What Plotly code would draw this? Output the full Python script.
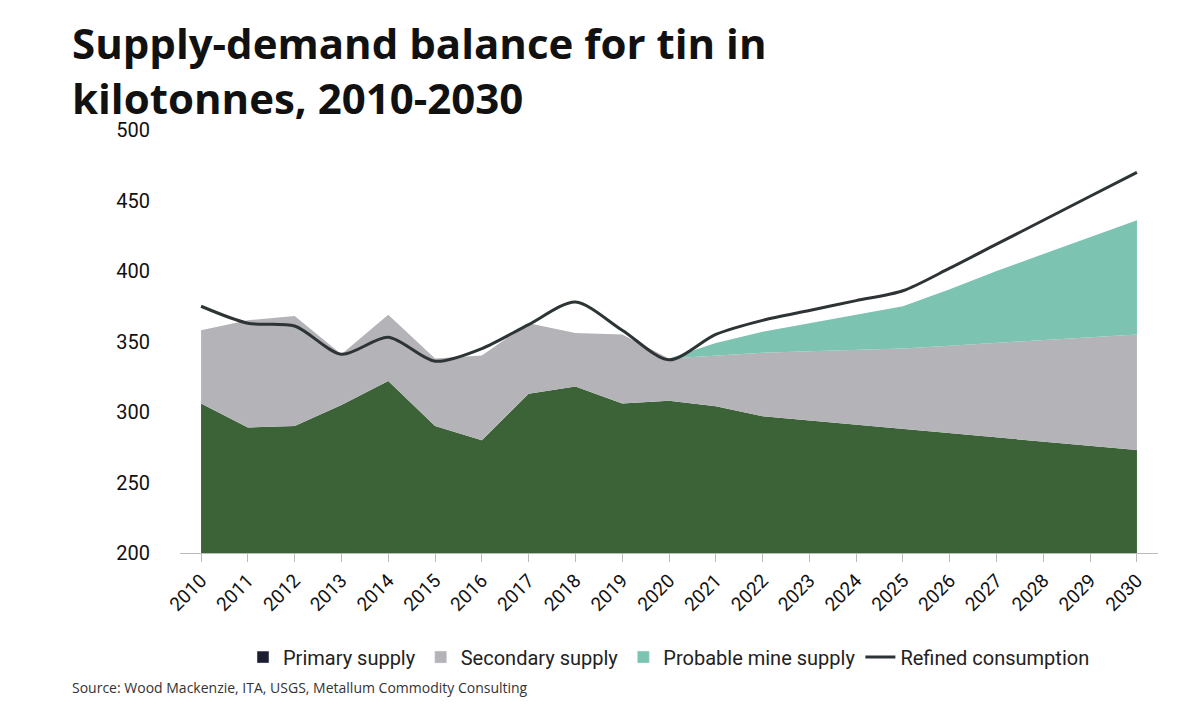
import plotly.graph_objects as go

years = list(range(2010, 2031))
primary = [306, 289, 290, 305, 322, 290, 280, 313, 318, 306, 308, 304, 297, 294, 291, 288, 285, 282, 279, 276, 273]
supply_total = [358, 365, 368, 341, 369, 338, 340, 363, 356, 355, 338, 340, 342, 343, 344, 345, 347, 349, 351, 353, 355]
probable_total = [358, 365, 368, 341, 369, 338, 340, 363, 356, 355, 338, 349, 357, 363, 369, 375, 387, 400, 412, 424, 436]
consumption = [375, 363, 361, 341, 353, 336, 345, 362, 378, 358, 337, 355, 365, 372, 379, 386, 402, 419, 436, 453, 470]

secondary = [t - p for t, p in zip(supply_total, primary)]
probable = [q - t for q, t in zip(probable_total, supply_total)]

fig = go.Figure()
common = dict(mode="lines", line=dict(width=0), stackgroup="s", showlegend=False, hoverinfo="skip")
fig.add_trace(go.Scatter(x=years, y=primary, fillcolor="#3b6337", **common))
fig.add_trace(go.Scatter(x=years, y=secondary, fillcolor="#b4b3b7", **common))
fig.add_trace(go.Scatter(x=years, y=probable, fillcolor="#7cc3b2", **common))
fig.add_trace(go.Scatter(x=years, y=consumption, mode="lines", line=dict(color="#2d3436", width=3, shape="spline", smoothing=0.8), showlegend=False))

for name, col in [("Primary supply", "#1c1d33"), ("Secondary supply", "#b4b3b7"), ("Probable mine supply", "#7cc3b2")]:
    fig.add_trace(go.Bar(x=[None], y=[None], marker=dict(color=col), name=name))
fig.add_trace(go.Scatter(x=[None], y=[None], mode="lines", line=dict(color="#2d3436", width=3), name="Refined consumption"))

fig.update_layout(
    width=1200, height=707, paper_bgcolor="white", plot_bgcolor="white",
    margin=dict(l=172, r=50, t=122, b=162),
    font=dict(family="Roboto", color="#222", size=19),
    xaxis=dict(range=[2009.55, 2030.45], tickvals=years, ticktext=[str(y) for y in years], tickangle=-45,
               showline=True, linecolor="#bbb", ticks="outside", tickcolor="#bbb", ticklen=8, showgrid=False, zeroline=False,
               tickfont=dict(size=19, color="#111")),
    yaxis=dict(range=[200, 500], tickvals=[200, 250, 300, 350, 400, 450, 500], showgrid=False, zeroline=False,
               ticklen=25, ticks="outside", tickcolor="white", tickfont=dict(size=20, color="#111")),
    legend=dict(orientation="h", x=0.5, xanchor="center", y=-0.2, yanchor="top", font=dict(size=20), traceorder="normal"),
    annotations=[
        dict(text="<b>Supply-demand balance for tin in<br>kilotonnes, 2010-2030</b>", xref="paper", yref="paper",
             x=-0.112, y=1.28, xanchor="left", yanchor="top", align="left", showarrow=False,
             font=dict(family="Open Sans", size=42, color="#111")),
        dict(text="Source: Wood Mackenzie, ITA, USGS, Metallum Commodity Consulting", xref="paper", yref="paper",
             x=-0.112, y=-0.29, xanchor="left", yanchor="top", showarrow=False,
             font=dict(family="Open Sans", size=14, color="#333")),
    ],
)
fig.write_html("out.html")
